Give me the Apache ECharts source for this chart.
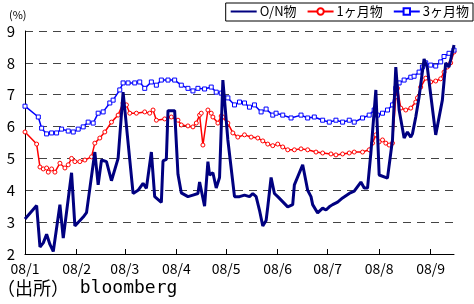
<!DOCTYPE html>
<html><head><meta charset="utf-8">
<script src="https://cdn.jsdelivr.net/npm/echarts@6/dist/echarts.min.js"></script>
<style>html,body{margin:0;padding:0;background:#fff}#c{width:474px;height:304px}</style>
</head><body><div id="c"></div>
<script>
var seriesNames = ['O/N物', '1ヶ月物', '3ヶ月物'];
var yTicks = [2, 3, 4, 5, 6, 7, 8, 9];

var onDates = ['2008-01-01','2008-01-08','2008-01-10','2008-01-12','2008-01-14','2008-01-16','2008-01-18','2008-01-22','2008-01-24','2008-01-29','2008-01-31','2008-02-05','2008-02-07','2008-02-12','2008-02-14','2008-02-16','2008-02-19','2008-02-22','2008-02-26','2008-02-29','2008-03-06','2008-03-09','2008-03-12','2008-03-14','2008-03-17','2008-03-19','2008-03-23','2008-03-24','2008-03-26','2008-03-27','2008-03-31','2008-04-02','2008-04-04','2008-04-08','2008-04-11','2008-04-14','2008-04-15','2008-04-18','2008-04-20','2008-04-21','2008-04-23','2008-04-25','2008-04-27','2008-04-29','2008-05-02','2008-05-06','2008-05-09','2008-05-12','2008-05-15','2008-05-17','2008-05-19','2008-05-21','2008-05-23','2008-05-25','2008-05-26','2008-05-28','2008-05-30','2008-06-01','2008-06-07','2008-06-10','2008-06-11','2008-06-16','2008-06-19','2008-06-21','2008-06-22','2008-06-25','2008-06-28','2008-06-30','2008-07-02','2008-07-04','2008-07-07','2008-07-10','2008-07-14','2008-07-17','2008-07-21','2008-07-23','2008-07-25','2008-07-27','2008-07-30','2008-08-01','2008-08-06','2008-08-09','2008-08-11','2008-08-13','2008-08-16','2008-08-18','2008-08-20','2008-08-21','2008-08-23','2008-08-25','2008-08-28','2008-08-30','2008-09-04','2008-09-08','2008-09-10','2008-09-12','2008-09-15'];
var onValues = [3.10,3.52,2.22,2.35,2.62,2.30,2.08,3.55,2.50,4.55,2.88,3.16,3.30,5.20,4.17,4.95,4.90,4.30,5.00,7.08,3.90,4.00,4.22,4.06,5.20,3.80,3.62,4.92,4.97,6.50,6.50,4.50,3.92,3.80,3.85,3.90,4.26,3.50,4.90,4.48,4.55,4.07,4.40,7.46,5.58,3.80,3.80,3.85,3.80,3.90,3.80,3.38,2.88,3.05,3.48,4.40,3.90,3.80,3.48,3.55,4.17,4.80,4.00,3.80,3.55,3.29,3.44,3.38,3.48,3.55,3.63,3.76,3.90,3.97,4.26,4.07,4.07,5.17,7.15,4.48,4.38,5.58,7.87,6.52,5.64,5.83,5.67,5.77,6.30,6.93,8.12,7.84,5.74,6.83,8.00,7.87,8.56];

var m1Dates = ['2008-01-01','2008-01-08','2008-01-10','2008-01-12','2008-01-14','2008-01-15','2008-01-17','2008-01-19','2008-01-22','2008-01-25','2008-01-27','2008-01-29','2008-01-31','2008-02-03','2008-02-06','2008-02-10','2008-02-12','2008-02-15','2008-02-18','2008-02-22','2008-02-26','2008-02-29','2008-03-02','2008-03-04','2008-03-08','2008-03-13','2008-03-16','2008-03-18','2008-03-20','2008-03-25','2008-03-29','2008-04-02','2008-04-04','2008-04-08','2008-04-11','2008-04-13','2008-04-15','2008-04-16','2008-04-17','2008-04-20','2008-04-22','2008-04-23','2008-04-26','2008-04-28','2008-04-29','2008-05-02','2008-05-05','2008-05-08','2008-05-12','2008-05-16','2008-05-20','2008-05-23','2008-05-26','2008-05-29','2008-06-01','2008-06-04','2008-06-07','2008-06-11','2008-06-15','2008-06-19','2008-06-24','2008-06-28','2008-07-03','2008-07-06','2008-07-10','2008-07-14','2008-07-17','2008-07-22','2008-07-26','2008-07-28','2008-07-30','2008-08-01','2008-08-03','2008-08-05','2008-08-07','2008-08-09','2008-08-11','2008-08-12','2008-08-14','2008-08-17','2008-08-20','2008-08-23','2008-08-24','2008-08-26','2008-08-29','2008-09-01','2008-09-04','2008-09-07','2008-09-09','2008-09-11','2008-09-13','2008-09-15'];
var m1Values = [5.83,5.45,4.73,4.67,4.70,4.57,4.67,4.57,4.85,4.70,4.80,5.00,4.90,4.90,4.95,5.05,5.48,5.64,5.83,6.14,6.36,6.74,6.68,6.42,6.42,6.46,6.42,6.52,6.20,6.24,6.30,6.20,6.05,6.02,5.99,6.11,6.36,6.42,5.42,6.52,6.42,6.30,6.11,6.33,6.30,6.11,5.80,5.67,5.74,5.67,5.64,5.55,5.45,5.40,5.45,5.36,5.27,5.27,5.30,5.27,5.20,5.17,5.14,5.11,5.14,5.17,5.20,5.20,5.27,5.48,5.74,5.52,5.58,5.48,5.42,5.48,6.93,7.20,6.58,6.52,6.58,6.77,6.90,7.24,7.52,7.40,7.43,7.50,7.71,7.87,8.00,8.34];

var m3Dates = ['2008-01-01','2008-01-09','2008-01-11','2008-01-14','2008-01-17','2008-01-20','2008-01-23','2008-01-27','2008-01-30','2008-02-02','2008-02-05','2008-02-08','2008-02-11','2008-02-14','2008-02-17','2008-02-21','2008-02-23','2008-02-27','2008-02-29','2008-03-03','2008-03-07','2008-03-10','2008-03-13','2008-03-17','2008-03-20','2008-03-23','2008-03-27','2008-03-31','2008-04-04','2008-04-08','2008-04-11','2008-04-14','2008-04-18','2008-04-22','2008-04-25','2008-04-28','2008-05-02','2008-05-06','2008-05-09','2008-05-12','2008-05-15','2008-05-18','2008-05-22','2008-05-25','2008-05-29','2008-05-31','2008-06-04','2008-06-09','2008-06-15','2008-06-19','2008-06-23','2008-06-28','2008-07-02','2008-07-06','2008-07-10','2008-07-14','2008-07-17','2008-07-22','2008-07-26','2008-07-29','2008-07-31','2008-08-03','2008-08-06','2008-08-09','2008-08-11','2008-08-13','2008-08-16','2008-08-20','2008-08-22','2008-08-25','2008-08-27','2008-08-29','2008-09-01','2008-09-04','2008-09-07','2008-09-09','2008-09-12','2008-09-15'];
var m3Values = [6.64,6.30,5.95,5.77,5.80,5.80,5.92,5.86,5.83,5.92,5.99,6.14,6.11,6.42,6.46,6.74,6.83,7.15,7.37,7.37,7.37,7.40,7.20,7.40,7.30,7.46,7.46,7.46,7.30,7.20,7.12,7.20,7.18,7.24,7.08,7.05,6.90,6.68,6.77,6.74,6.61,6.68,6.46,6.55,6.36,6.42,6.36,6.27,6.36,6.27,6.30,6.20,6.14,6.20,6.14,6.20,6.14,6.27,6.36,6.52,6.36,6.42,6.52,6.68,7.20,7.37,7.46,7.55,7.58,7.71,7.87,8.00,7.93,7.90,8.03,8.20,8.30,8.40];

function pairs(d, v) { return d.map(function (x, i) { return [x, v[i]]; }); }

var CJK = "'Noto Sans CJK JP', sans-serif";
var chart = echarts.init(document.getElementById('c'), null, {renderer: 'canvas'});
chart.setOption({
  animation: false,
  backgroundColor: '#fff',
  grid: {left: 25, right: 20, top: 31, bottom: 50},
  title: {text: '(%)', left: 9, top: 9, padding: 0,
    textStyle: {fontSize: 11, fontWeight: 'normal', color: '#000', fontFamily: CJK}},
  legend: {
    data: [
      {name: seriesNames[0], itemStyle: {color: 'rgba(0,0,0,0)', borderColor: 'rgba(0,0,0,0)', borderWidth: 0}},
      {name: seriesNames[1]},
      {name: seriesNames[2]}
    ],
    right: 1, top: 3, itemWidth: 26, itemHeight: 8, itemGap: 10,
    padding: [2, 4, 3, 4], borderColor: '#000', borderWidth: 1, borderRadius: 0,
    textStyle: {fontSize: 13, color: '#000', fontFamily: CJK, padding: [0, 0, 0, -2]}
  },
  graphic: [{type: 'text', left: -3, top: 279,
    style: {text: '{a|（出所）}{b| bloomberg}', fill: '#000',
      rich: {
        a: {fontSize: 18, fontFamily: CJK, fill: '#000'},
        b: {fontSize: 18, fontFamily: "'DejaVu Sans Mono', monospace", fill: '#000'}
      }}}],
  xAxis: {
    type: 'time', min: '2008-01-01', max: '2008-09-15', splitNumber: 9,
    minInterval: 28 * 86400000, maxInterval: 31 * 86400000,
    axisLine: {lineStyle: {color: '#000', width: 1}},
    axisTick: {show: true, inside: true, length: 5, lineStyle: {color: '#000'}},
    splitLine: {show: false},
    axisLabel: {color: '#000', fontSize: 14, fontFamily: CJK, margin: 8, hideOverlap: false,
      formatter: function (val) { var d = new Date(val); return String(d.getFullYear() % 100).padStart(2, '0') + '/' + (d.getMonth() + 1); }}
  },
  yAxis: {
    type: 'value', min: yTicks[0], max: yTicks[yTicks.length - 1], interval: 1,
    axisLine: {show: true, lineStyle: {color: '#000', width: 1}},
    axisTick: {show: false},
    axisLabel: {color: '#000', fontSize: 15, fontFamily: CJK, margin: 10},
    splitLine: {show: true, lineStyle: {color: '#444', type: [8, 6], width: 1}}
  },
  series: [
    {name: seriesNames[0], type: 'line', data: pairs(onDates, onValues), symbol: 'none',
      lineStyle: {color: '#000080', width: 3}, itemStyle: {color: '#000080'}, z: 5},
    {name: seriesNames[1], type: 'line', data: pairs(m1Dates, m1Values), symbol: 'circle', symbolSize: 4,
      showAllSymbol: true,
      lineStyle: {color: '#ff0000', width: 1.5}, itemStyle: {color: '#fff', borderColor: '#ff0000', borderWidth: 1}, z: 3},
    {name: seriesNames[2], type: 'line', data: pairs(m3Dates, m3Values), symbol: 'rect', symbolSize: 4,
      showAllSymbol: true,
      lineStyle: {color: '#0000ff', width: 1.5}, itemStyle: {color: '#fff', borderColor: '#0000ff', borderWidth: 1}, z: 4}
  ]
});
</script></body></html>
